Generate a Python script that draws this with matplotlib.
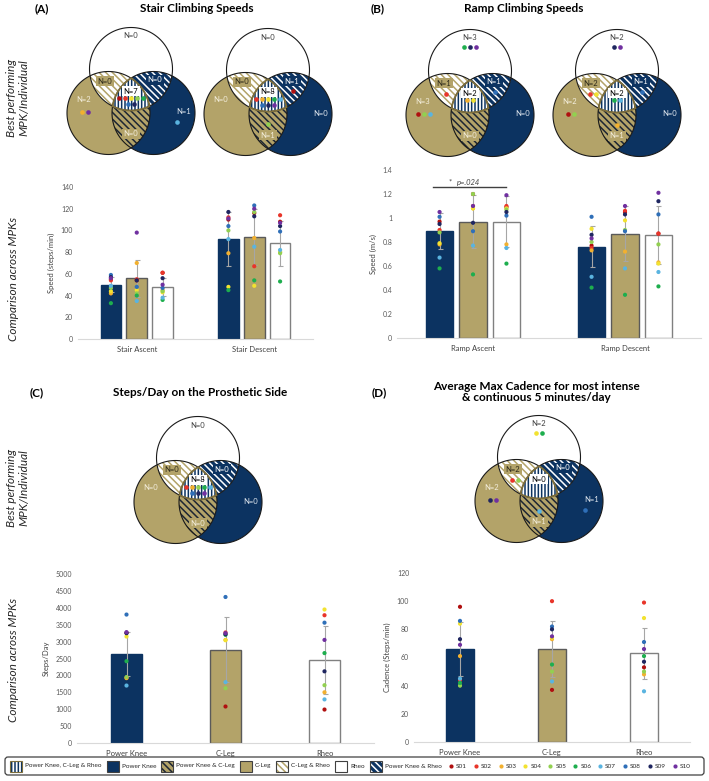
import numpy as np
import matplotlib
matplotlib.use('Agg')
import matplotlib.pyplot as plt
from matplotlib.patches import Polygon, FancyBboxPatch, Rectangle

plt.rcParams['font.family'] = ['Lato', 'DejaVu Sans']
plt.rcParams['hatch.linewidth'] = 1.1

W, H = 709, 781
NAVY = '#0C3361'
GOLD = '#B3A369'
DIAG = '\\\\\\\\\\'
VERT = '|||||'

subjects = ['S01', 'S02', 'S03', 'S04', 'S05', 'S06', 'S07', 'S08', 'S09', 'S10']
subject_colors = ['#B01010', '#E8352A', '#F2B02F', '#F2E230', '#92D050',
                  '#1EAE4E', '#5AB4E0', '#2F6FB8', '#1F2660', '#7030A0']
devices = ['Power Knee', 'C-Leg', 'Rheo']

# (A) stair climbing speeds (steps/min)
stair_cats = ['Stair Ascent', 'Stair Descent']
stair_pk = [50, 92]
stair_cl = [56, 94]
stair_rheo = [48, 88]
stair_pk_sd = [7, 25]
stair_cl_sd = [17, 26]
stair_rheo_sd = [8, 21]
stair_pk_pts = [[55, 54, 42, 44, 47, 33, 49, 59, 57, 56],
                [110, 112, 79, 48, 100, 45, 92, 104, 117, 111]]
stair_cl_pts = [[54, 55, 70, 45, 42, 40, 35, 48, 54, 98],
                [116, 67, 93, 49, 117, 54, 85, 123, 113, 120]]
stair_rheo_pts = [[61, 61, 45, 43, 44, 36, 38, 47, 56, 50],
                  [108, 114, 80, 80, 79, 53, 82, 99, 104, 107]]

# (B) ramp climbing speeds (m/s)
ramp_cats = ['Ramp Ascent', 'Ramp Descent']
ramp_pk = [0.89, 0.76]
ramp_cl = [0.97, 0.87]
ramp_rheo = [0.97, 0.86]
ramp_pk_sd = [0.15, 0.17]
ramp_cl_sd = [0.22, 0.23]
ramp_rheo_sd = [0.21, 0.24]
ramp_pk_pts = [[0.97, 0.90, 0.78, 0.79, 0.88, 0.58, 0.67, 1.01, 0.95, 1.05],
               [0.77, 0.75, 0.73, 0.91, 0.80, 0.42, 0.51, 1.01, 0.86, 0.83]]
ramp_cl_pts = [[1.20, 1.10, 1.08, 1.08, 1.20, 0.53, 0.77, 0.89, 0.96, 1.10],
               [1.05, 1.06, 0.72, 0.98, 0.90, 0.36, 0.58, 0.89, 1.03, 1.10]]
ramp_rheo_pts = [[1.09, 1.10, 0.78, 1.08, 1.07, 0.62, 0.75, 1.02, 1.05, 1.19],
                 [0.87, 0.87, 0.63, 0.62, 0.78, 0.43, 0.55, 1.03, 1.14, 1.21]]

# (C) steps/day
steps_mean = [2620, 2760, 2460]
steps_sd = [650, 960, 1000]
steps_pk_pts = [3260, 1930, 1920, 3150, 1950, 2420, 1700, 3800, 3250, 3280]
steps_cl_pts = [1080, 3270, 3050, 3040, 1620, 3200, 1800, 4320, 3220, 3250]
steps_rheo_pts = [990, 3780, 1500, 3950, 1710, 2660, 1290, 3560, 2120, 3050]

# (D) max cadence (steps/min)
cad_mean = [66, 66, 63]
cad_sd = [19, 20, 18]
cad_pk_pts = [96, 44, 61, 84, 40, 42, 45, 86, 73, 69]
cad_cl_pts = [37, 100, 73, 74, 50, 55, 43, 82, 80, 75]
cad_rheo_pts = [53, 99, 48, 88, 50, 61, 36, 71, 57, 66]

# best performing MPK per subject (subject numbers per venn region)
venn_stair_asc = {'rheo': [], 'cl_rheo': [], 'pk_rheo': [], 'all': [1, 2, 4, 5, 6, 8, 9],
                  'cl': [3, 10], 'pk': [7], 'pk_cl': []}
venn_stair_desc = {'rheo': [], 'cl_rheo': [], 'pk_rheo': [1], 'all': [2, 3, 4, 6, 7, 8, 9, 10],
                   'cl': [], 'pk': [], 'pk_cl': [5]}
venn_ramp_asc = {'rheo': [6, 9, 10], 'cl_rheo': [2], 'pk_rheo': [8], 'all': [3, 4],
                 'cl': [1, 5, 7], 'pk': [], 'pk_cl': []}
venn_ramp_desc = {'rheo': [9, 10], 'cl_rheo': [2, 4], 'pk_rheo': [8], 'all': [6, 7],
                  'cl': [1, 5], 'pk': [], 'pk_cl': [3]}
venn_steps = {'rheo': [], 'cl_rheo': [], 'pk_rheo': [], 'all': [2, 3, 5, 6, 7, 8, 9, 10],
              'cl': [], 'pk': [], 'pk_cl': []}
venn_cadence = {'rheo': [4, 6], 'cl_rheo': [2, 5], 'pk_rheo': [], 'all': [],
                'cl': [9, 10], 'pk': [8], 'pk_cl': [7]}


def circle_pts(cx, cy, r, n=140):
    t = np.linspace(0, 2 * np.pi, n, endpoint=False)
    return [(cx + r * np.cos(a), cy + r * np.sin(a)) for a in t]


def clip(subj, clipper):
    # Sutherland-Hodgman, both convex and same orientation
    out = list(subj)
    for i in range(len(clipper)):
        a = clipper[i]
        b = clipper[(i + 1) % len(clipper)]
        inp = out
        out = []
        if not inp:
            break

        def inside(p):
            return (b[0] - a[0]) * (p[1] - a[1]) - (b[1] - a[1]) * (p[0] - a[0]) >= 0

        def cross_pt(p, q):
            x1, y1 = p; x2, y2 = q; x3, y3 = a; x4, y4 = b
            d = (x1 - x2) * (y3 - y4) - (y1 - y2) * (x3 - x4)
            t = ((x1 - x3) * (y3 - y4) - (y1 - y3) * (x3 - x4)) / d
            return (x1 + t * (x2 - x1), y1 + t * (y2 - y1))

        s = inp[-1]
        for e in inp:
            if inside(e):
                if not inside(s):
                    out.append(cross_pt(s, e))
                out.append(e)
            elif inside(s):
                out.append(cross_pt(s, e))
            s = e
    return out


label_off = {'rheo': (0, -33), 'cl_rheo': (-26, 12), 'pk_rheo': (24, 11), 'all': (0, 22),
             'cl': (-47, 30), 'pk': (53, 43), 'pk_cl': (0, 65)}
dot_off = {'rheo': (0, -24), 'cl_rheo': (-24, 23), 'pk_rheo': (25, 21), 'all': (0, 29),
           'cl': (-46, 43), 'pk': (46, 53), 'pk_cl': (0, 54)}
label_style = {'rheo': ('#404040', None), 'cl_rheo': ('#2d2a1a', GOLD),
               'pk_rheo': ('white', NAVY), 'all': ('black', 'white'),
               'cl': ('#f3eedc', None), 'pk': ('#dfe6ee', None), 'pk_cl': ('#f3eedc', GOLD)}


def venn(ax, tx, ty, groups):
    r = 41.5
    T = circle_pts(tx, ty, r)
    L = circle_pts(tx - 22.5, ty + 44, r)
    R = circle_pts(tx + 22.5, ty + 44, r)
    ax.add_patch(Polygon(L, closed=True, fc=GOLD, ec='none'))
    ax.add_patch(Polygon(R, closed=True, fc=NAVY, ec='none'))
    ax.add_patch(Polygon(T, closed=True, fc='white', ec='none'))
    lt = clip(T, L)
    rt = clip(T, R)
    lr = clip(L, R)
    ctr = clip(lt, R)
    ax.add_patch(Polygon(lt, closed=True, fc='white', ec=GOLD, lw=0, hatch=DIAG))
    ax.add_patch(Polygon(rt, closed=True, fc=NAVY, ec='white', lw=0, hatch=DIAG))
    ax.add_patch(Polygon(lr, closed=True, fc=GOLD, ec='#1d2633', lw=0, hatch=DIAG))
    ax.add_patch(Polygon(ctr, closed=True, fc='white', ec=NAVY, lw=0, hatch=VERT))
    for c in (T, L, R):
        ax.add_patch(Polygon(c, closed=True, fill=False, ec='#1a1a1a', lw=0.8))
    ax.add_patch(Polygon(ctr, closed=True, fill=False, ec='#7d6e3c', lw=1.3))

    for key, subs in groups.items():
        lx, ly = label_off[key]
        col, bg = label_style[key]
        bbox = None if bg is None else dict(boxstyle='square,pad=0.25', fc=bg, ec='none')
        ax.text(tx + lx, ty + ly, 'N=%d' % len(subs), fontsize=5.5, color=col,
                ha='center', va='center', bbox=bbox, zorder=5)
        dx, dy = dot_off[key]
        rows = [subs[:5], subs[5:]] if key == 'all' else [subs]
        for j, row in enumerate(rows):
            for k, s in enumerate(row):
                x = tx + dx + (k - (len(row) - 1) / 2) * 6
                ax.scatter(x, ty + dy + j * 6, s=11, color=subject_colors[s - 1],
                           lw=0, zorder=6)


def bar_axes(x0, x1, y0, y1):
    return fig.add_axes([x0 / W, 1 - y0 / H, (x1 - x0) / W, (y0 - y1) / H])


def style_axes(ax, ylim, yticks, ylabel, ticklabels=None):
    ax.set_ylim(*ylim)
    ax.set_yticks(yticks)
    if ticklabels is not None:
        ax.set_yticklabels(ticklabels)
    for s in ['top', 'right', 'left']:
        ax.spines[s].set_visible(False)
    ax.spines['bottom'].set_color('#d9d9d9')
    ax.tick_params(length=0, labelsize=5, labelcolor='#595959')
    ax.tick_params(axis='x', labelsize=5.5, labelcolor='#404040', pad=5)
    ax.set_ylabel(ylabel, fontsize=5.5, color='#404040')
    ax.patch.set_alpha(0)


bar_fc = [NAVY, GOLD, 'white']
bar_ec = [NAVY, '#5a5a5a', '#808080']


def draw_bars(ax, xs, heights, sds, pts, width, k):
    ax.bar(xs, heights, width, color=bar_fc[k], edgecolor=bar_ec[k], lw=1, zorder=2)
    ax.errorbar(xs, heights, yerr=sds, fmt='none', ecolor='#a6a6a6', elinewidth=0.8,
                capsize=1.8, capthick=0.8, zorder=3)
    for x, vals in zip(xs, pts):
        ax.scatter([x] * len(vals), vals, s=9, c=subject_colors, lw=0, zorder=4)


fig = plt.figure(figsize=(W / 100, H / 100), dpi=100)
ov = fig.add_axes([0, 0, 1, 1])
ov.set_xlim(0, W)
ov.set_ylim(H, 0)
ov.axis('off')

# titles
ov.text(35, 9, '(A)', fontsize=8.5, fontweight='bold', ha='left', va='center')
ov.text(197, 9, 'Stair Climbing Speeds', fontsize=8.5, fontweight='bold', ha='center', va='center')
ov.text(371, 9, '(B)', fontsize=8.5, fontweight='bold', ha='left', va='center')
ov.text(524, 9, 'Ramp Climbing Speeds', fontsize=8.5, fontweight='bold', ha='center', va='center')
ov.text(30, 393, '(C)', fontsize=8.5, fontweight='bold', ha='left', va='center')
ov.text(200, 393, 'Steps/Day on the Prosthetic Side', fontsize=8.5, fontweight='bold',
        ha='center', va='center')
ov.text(372, 393, '(D)', fontsize=8.5, fontweight='bold', ha='left', va='center')
ov.text(536, 392, 'Average Max Cadence for most intense\n& continuous 5 minutes/day',
        fontsize=8.5, fontweight='bold', ha='center', va='center', linespacing=1.1)

for yb, yc in [(98, 279), (488, 660)]:
    ov.text(18, yb, 'Best performing\nMPK/Individual', fontsize=8.5, style='italic',
            rotation=90, ha='center', va='center', color='#262626')
    ov.text(14, yc, 'Comparison across MPKs', fontsize=8.5, style='italic',
            rotation=90, ha='center', va='center', color='#262626')

venn(ov, 131, 69, venn_stair_asc)
venn(ov, 268, 70, venn_stair_desc)
venn(ov, 470, 71, venn_ramp_asc)
venn(ov, 617, 71, venn_ramp_desc)
venn(ov, 198, 458, venn_steps)
venn(ov, 539, 457, venn_cadence)

# (A) bars
axA = bar_axes(78, 313, 339, 187)
xc = np.arange(len(stair_cats))
for k, (m, sd, p) in enumerate([(stair_pk, stair_pk_sd, stair_pk_pts),
                                (stair_cl, stair_cl_sd, stair_cl_pts),
                                (stair_rheo, stair_rheo_sd, stair_rheo_pts)]):
    draw_bars(axA, xc + (k - 1) * 0.22, m, sd, p, 0.175, k)
axA.set_xlim(-0.5, 1.5)
axA.set_xticks(xc)
axA.set_xticklabels(stair_cats)
style_axes(axA, (0, 140), range(0, 141, 20), 'Speed (steps/min)')

# (B) bars
axB = bar_axes(397, 701, 338, 170)
for k, (m, sd, p) in enumerate([(ramp_pk, ramp_pk_sd, ramp_pk_pts),
                                (ramp_cl, ramp_cl_sd, ramp_cl_pts),
                                (ramp_rheo, ramp_rheo_sd, ramp_rheo_pts)]):
    draw_bars(axB, xc + (k - 1) * 0.22, m, sd, p, 0.18, k)
axB.set_xlim(-0.5, 1.5)
axB.set_xticks(xc)
axB.set_xticklabels(ramp_cats)
ticks_b = np.round(np.arange(0, 1.41, 0.2), 1)
style_axes(axB, (0, 1.4), ticks_b, 'Speed (m/s)', ['%g' % t for t in ticks_b])
axB.plot([-0.26, 0.22], [1.26, 1.26], color='#404040', lw=1, zorder=5)
axB.text(-0.15, 1.3, '*', fontsize=5.5, ha='center', va='center', color='#404040')
axB.text(-0.03, 1.3, 'p=.024', fontsize=5.5, style='italic', ha='center', va='center',
         color='#404040')

# (C) bars
axC = bar_axes(77, 374, 743, 574)
xd = np.arange(len(devices))
for k, p in enumerate([steps_pk_pts, steps_cl_pts, steps_rheo_pts]):
    draw_bars(axC, [xd[k]], [steps_mean[k]], [steps_sd[k]], [p], 0.32, k)
axC.set_xlim(-0.5, 2.5)
axC.set_xticks(xd)
axC.set_xticklabels(devices)
style_axes(axC, (0, 5000), range(0, 5001, 500), 'Steps/Day')

# (D) bars
axD = bar_axes(414, 690, 742, 573)
for k, p in enumerate([cad_pk_pts, cad_cl_pts, cad_rheo_pts]):
    draw_bars(axD, [xd[k]], [cad_mean[k]], [cad_sd[k]], [p], 0.31, k)
axD.set_xlim(-0.5, 2.5)
axD.set_xticks(xd)
axD.set_xticklabels(devices)
style_axes(axD, (0, 120), range(0, 121, 20), 'Cadence (Steps/min)')

# legend: laid out left to right using measured text widths
ov.add_patch(FancyBboxPatch((5, 757), 699, 18, boxstyle='round,pad=0,rounding_size=3',
                            fc='white', ec='#404040', lw=0.9))
legend_items = [('Power Knee, C-Leg & Rheo', 'white', NAVY, VERT),
                ('Power Knee', NAVY, NAVY, None),
                ('Power Knee & C-Leg', GOLD, '#1d2633', DIAG),
                ('C-Leg', GOLD, GOLD, None),
                ('C-Leg & Rheo', 'white', GOLD, DIAG),
                ('Rheo', 'white', 'white', None),
                ('Power Knee & Rheo', NAVY, 'white', DIAG)]
renderer = fig.canvas.get_renderer()
x = 10
for name, fc, hc, hatch in legend_items:
    ov.add_patch(Rectangle((x, 760.5), 12, 11, fc=fc, ec=hc, lw=0, hatch=hatch))
    edge = '#7d6e3c' if hatch == VERT else '#404040'
    ov.add_patch(Rectangle((x, 760.5), 12, 11, fill=False, ec=edge, lw=0.8))
    t = ov.text(x + 15, 766, name, fontsize=4.6, ha='left', va='center', color='#262626')
    x = x + 15 + t.get_window_extent(renderer).width + 5
x_dots = x + 4
step = (700 - x_dots) / len(subjects)
for i, s in enumerate(subjects):
    xs = x_dots + i * step
    ov.scatter(xs, 766, s=9, color=subject_colors[i], lw=0)
    ov.text(xs + 5, 766, s, fontsize=4.6, ha='left', va='center', color='#262626')

fig.savefig('out.png', dpi=100)
